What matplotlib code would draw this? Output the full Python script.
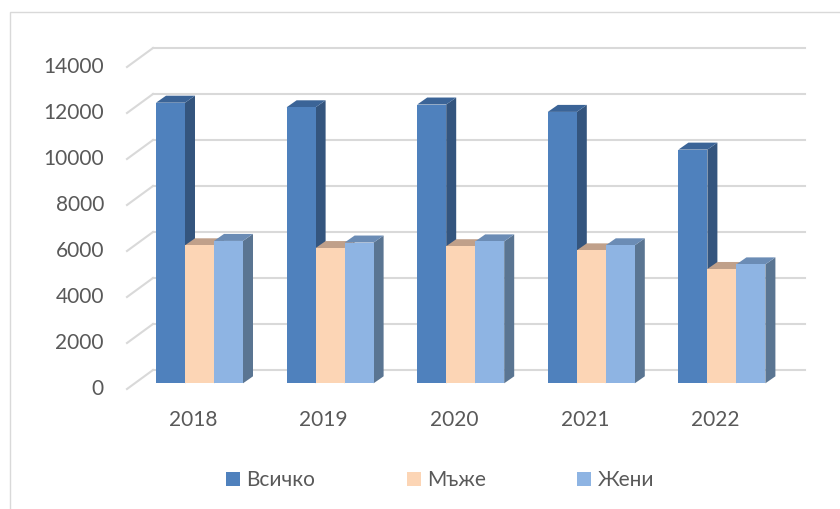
import matplotlib.pyplot as plt
from matplotlib.patches import Polygon, Rectangle, Patch

plt.rcParams['font.family'] = ['Lato', 'Open Sans', 'DejaVu Sans']

# Данни
years = ['2018', '2019', '2020', '2021', '2022']
series = ['Всичко', 'Мъже', 'Жени']
vsichko = [12200, 12000, 12120, 11800, 10160]
muzhe = [6000, 5880, 5960, 5780, 4970]
zheni = [6190, 6120, 6170, 6000, 5170]
values = [vsichko, muzhe, zheni]

front_col = ['#4F81BD', '#FCD5B5', '#8EB4E3']
side_col = ['#34557E', '#A98F79', '#5A7592']
top_col = ['#3B6497', '#C0A08A', '#6B8CB5']
grid_col = '#D9D9D9'
txt_col = '#595959'

yticks = list(range(0, 14001, 2000))

# наклонена "3D" проекция (в единици на данните)
W, H = 840, 509
px_x = 130.6          # пиксела на категория
px_y = 46 / 2000      # пиксела на единица стойност
x0_px, y0_px = 191.7, 389

depth_x = 26 / px_x
depth_y = 19 / px_y
bar_w = 29 / px_x
off_x = 0.3 * depth_x
off_y = 0.3 * depth_y
bd_x = 10 / px_x
bd_y = 7 / px_y

fig = plt.figure(figsize=(W / 100, H / 100), dpi=100)
ax = fig.add_axes([0, 0, 1, 1])
ax.set_xlim(-x0_px / px_x, (W - x0_px) / px_x)
ax.set_ylim(-(H - y0_px) / px_y, y0_px / px_y)
ax.axis('off')

# рамка на диаграмата
fig.add_artist(Rectangle((10 / W, -0.1), 1.2, 1 - 12 / H + 0.1,
                         transform=fig.transFigure, fill=False,
                         ec=grid_col, lw=1))

# мрежа (задна стена + диагонали вляво)
x_left = (127 - x0_px) / px_x
x_right = (805 - x0_px) / px_x
for v in yticks:
    ax.plot([x_left, x_left + depth_x], [v, v + depth_y], color=grid_col, lw=1.5, zorder=1)
    ax.plot([x_left + depth_x, x_right], [v + depth_y, v + depth_y], color=grid_col, lw=1.5, zorder=1)
    ax.text(x_left - 23 / px_x, v, str(v), ha='right', va='center',
            fontsize=15, color=txt_col)

# колони
z = 2
for j, yr in enumerate(years):
    for i in range(len(series)):
        v = values[i][j]
        xl = j - 1.5 * bar_w + i * bar_w + off_x
        xr = xl + bar_w
        b = off_y
        t = v + off_y
        side = [(xr, b), (xr, t), (xr + bd_x, t + bd_y), (xr + bd_x, b + bd_y)]
        top = [(xl, t), (xr, t), (xr + bd_x, t + bd_y), (xl + bd_x, t + bd_y)]
        front = [(xl, b), (xr, b), (xr, t), (xl, t)]
        ax.add_patch(Polygon(side, closed=True, fc=side_col[i], ec='none', zorder=z))
        ax.add_patch(Polygon(top, closed=True, fc=top_col[i], ec='none', zorder=z))
        ax.add_patch(Polygon(front, closed=True, fc=front_col[i], ec='none', zorder=z))
        z += 1
    ax.text(j + 0.01, -31 / px_y, yr, ha='center', va='center',
            fontsize=15, color=txt_col)

handles = [Patch(fc=c, ec='none') for c in front_col]
fig.legend(handles, series, loc='center', bbox_to_anchor=(440 / W, 1 - 480 / H),
           ncol=3, frameon=False, fontsize=15, labelcolor=txt_col,
           handlelength=0.67, handleheight=0.67, handletextpad=0.3,
           columnspacing=4.4)

fig.savefig('out.png', dpi=100)
